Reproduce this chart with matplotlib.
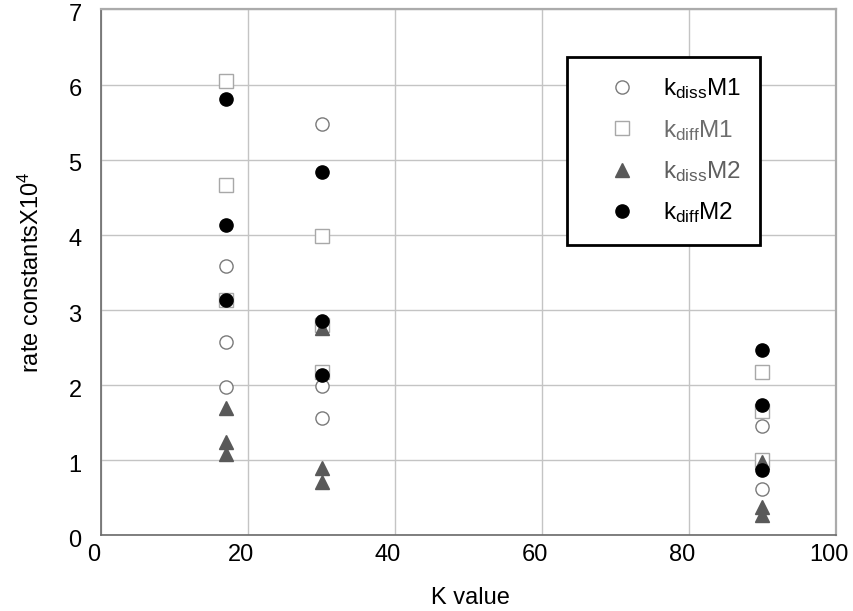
import matplotlib
matplotlib.use('Agg')
import numpy as np
import matplotlib.pyplot as plt
import matplotlib.transforms as mtransforms
from matplotlib.lines import Line2D

plt.rcParams['font.family'] = ['Liberation Sans', 'DejaVu Sans']
plt.rcParams['mathtext.fontset'] = 'custom'
plt.rcParams['mathtext.rm'] = 'Liberation Sans'
plt.rcParams['mathtext.it'] = 'Liberation Sans:italic'
plt.rcParams['mathtext.bf'] = 'Liberation Sans:bold'

# K values at which the rate constants were measured
k_levels = [17, 30, 90]

# rate constants (x10^4), three replicates per K value
kdiss_m1 = [[3.58, 2.58, 1.97], [5.48, 1.99, 1.57], [1.46, 1.01, 0.62]]
kdiff_m1 = [[6.05, 4.67, 3.13], [3.99, 2.80, 2.17], [2.17, 1.66, 1.00]]
kdiss_m2 = [[1.70, 1.25, 1.08], [2.76, 0.90, 0.71], [0.98, 0.38, 0.27]]
kdiff_m2 = [[5.81, 4.13, 3.13], [4.84, 2.86, 2.13], [2.47, 1.73, 0.87]]

labels = [r'k$_{\mathrm{diss}}$M1', r'k$_{\mathrm{diff}}$M1',
          r'k$_{\mathrm{diss}}$M2', r'k$_{\mathrm{diff}}$M2']
label_colors = ['#000000', '#6d6d6d', '#5f5f5f', '#000000']

x_ticks = [0, 20, 40, 60, 80, 100]
y_ticks = [0, 1, 2, 3, 4, 5, 6, 7]

styles = [
    dict(marker='o', markerfacecolor='white', markeredgecolor='#7a7a7a', markersize=9.5, markeredgewidth=1.0),
    dict(marker='s', markerfacecolor='white', markeredgecolor='#a8a8a8', markersize=9.5, markeredgewidth=1.0),
    dict(marker='^', markerfacecolor='#595959', markeredgecolor='#595959', markersize=9.5, markeredgewidth=1.0),
    dict(marker='o', markerfacecolor='#000000', markeredgecolor='#000000', markersize=9.5, markeredgewidth=1.0),
]

fig = plt.figure(figsize=(8.54, 6.11), dpi=100)
ax = fig.add_axes([0.1183, 0.1236, 0.8606, 0.8609])

series = [kdiss_m1, kdiff_m1, kdiss_m2, kdiff_m2]
handles = []
for vals, st, lab in zip(series, styles, labels):
    vals = np.asarray(vals)
    xs = np.repeat(k_levels, vals.shape[1])
    ax.plot(xs, vals.ravel(), linestyle='none', zorder=3, clip_on=False, **st)
    handles.append(Line2D([], [], linestyle='none', **st))

ax.set_xlim(0, 100)
ax.set_ylim(0, 7)
ax.set_xticks(x_ticks)
ax.set_yticks(y_ticks)
ax.grid(True, color='#c4c4c4', linewidth=1.0, zorder=0)
ax.set_axisbelow(True)
ax.tick_params(axis='both', length=0, labelsize=17, colors='#000000')
ax.tick_params(axis='y', pad=14)
ax.tick_params(axis='x', pad=6)

# tick labels sit slightly left of / below their grid positions
x_shift = mtransforms.ScaledTranslation(-7 / 100, 0, fig.dpi_scale_trans)
for lbl in ax.get_xticklabels():
    lbl.set_transform(lbl.get_transform() + x_shift)
y_shift = mtransforms.ScaledTranslation(0, -3 / 100, fig.dpi_scale_trans)
for lbl in ax.get_yticklabels():
    lbl.set_transform(lbl.get_transform() + y_shift)

for side in ['left', 'bottom']:
    ax.spines[side].set_color('#6a6a6a')
    ax.spines[side].set_linewidth(1.2)
for side in ['top', 'right']:
    ax.spines[side].set_color('#ababab')
    ax.spines[side].set_linewidth(1.6)

ax.set_xlabel('K value', fontsize=17)
ax.xaxis.set_label_coords(0.503, -0.098)
ax.set_ylabel(r'rate constantsX10$^{4}$', fontsize=17)
ax.yaxis.set_label_coords(-0.078, 0.5)

leg = ax.legend(handles, labels, loc='upper left', bbox_to_anchor=(0.634, 0.91),
                fontsize=17.5, frameon=True, fancybox=False, framealpha=1,
                edgecolor='#000000', borderpad=0.8, labelspacing=0.68,
                handlelength=2.9, handletextpad=0.25, borderaxespad=0)
leg.get_frame().set_linewidth(2.0)
for txt, col in zip(leg.get_texts(), label_colors):
    txt.set_color(col)

fig.savefig('out.png', dpi=100)
